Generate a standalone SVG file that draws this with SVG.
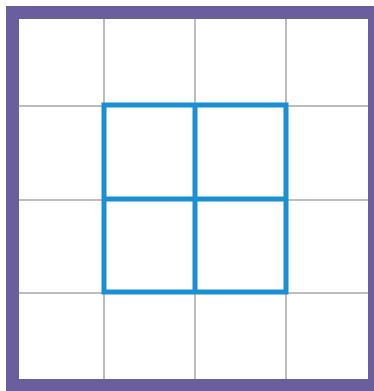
<svg xmlns="http://www.w3.org/2000/svg" width="374" height="391" viewBox="0 0 374 391">
<style>
.frame{fill:#6b5e9f;fill-rule:evenodd}
.grid{stroke:#bdbdbd;stroke-width:2;fill:none}
.blue{stroke:#1a8fd4;stroke-width:5;fill:none;stroke-linecap:square}
</style>
<rect x="0" y="0" width="374" height="391" fill="#ffffff"/>
<g id="frame">
<path class="frame" d="M6 6H374V391H6Z M19 19V379H368V19Z"/>
</g>
<g id="grid">
<path class="grid" d="M104 19V379 M195 19V379 M286 19V379 M19 106H368 M19 200H368 M19 293H368"/>
</g>
<g id="square">
<path class="blue" d="M104 105H286V292H104Z M195 105V292 M104 199H286"/>
</g>
</svg>
